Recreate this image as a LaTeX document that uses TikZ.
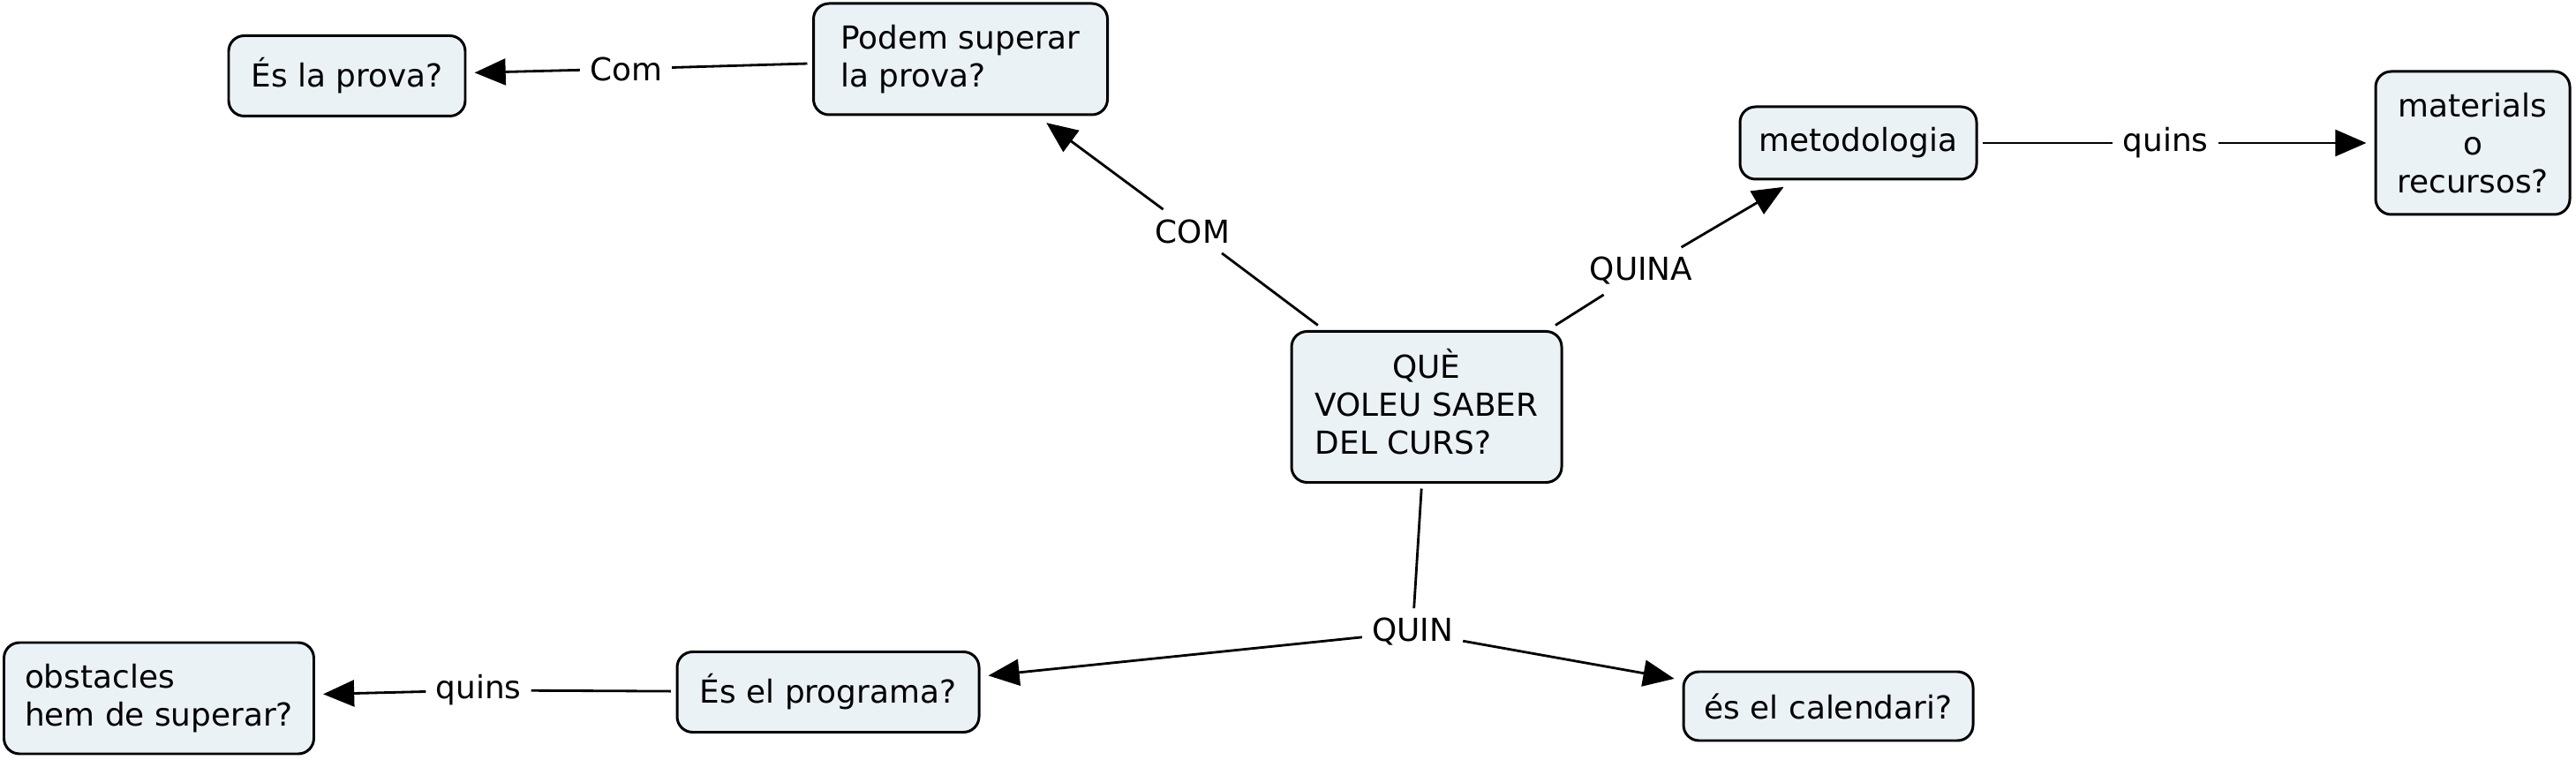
\documentclass[tikz,border=0pt]{standalone}
\usepackage{fontspec}
\setmainfont{DejaVu Sans}
\usepackage{tikz}
\usetikzlibrary{arrows.meta, positioning}

\definecolor{conceptfill}{RGB}{235,242,245}

\begin{document}
\begin{tikzpicture}[
        concept/.style={draw, fill=conceptfill, rounded corners=5pt, line width=0.85pt, inner xsep=6pt, outer sep=2pt, font=\fontsize{10.2}{12.2}\selectfont},
        linkword/.style={inner sep=3pt, font=\fontsize{10.2}{12.2}\selectfont},
        tolink/.style={line width=0.8pt},
        toconcept/.style={line width=0.8pt, -{Triangle[length=10pt,width=8.5pt]}, shorten >=1pt}
    ]
        \useasboundingbox (0,0) rectangle (29.18,-8.61);

        \node[concept, minimum width=3.06cm, minimum height=1.71cm](que) at (16.16,-4.61)
            {\begin{tabular}{@{}l@{}}\multicolumn{1}{@{}c@{}}{QUÈ}\\VOLEU SABER\\DEL CURS?\end{tabular}};
        \node[concept, align=left, minimum width=3.33cm, minimum height=1.26cm](podem) at (10.88,-0.67) {Podem superar\\la prova?};
        \node[concept, minimum width=2.68cm, minimum height=0.91cm](prova) at (3.93,-0.86) {És la prova?};
        \node[concept, minimum width=2.68cm, minimum height=0.82cm](metode) at (21.05,-1.62) {metodologia};
        \node[concept, align=center, minimum width=2.20cm, minimum height=1.62cm](materials) at (28.01,-1.62) {materials\\o\\recursos?};
        \node[concept, minimum width=3.42cm, minimum height=0.91cm](programa) at (9.38,-7.84) {És el programa?};
        \node[concept, align=left, minimum width=3.51cm, minimum height=1.26cm](obstacles) at (1.80,-7.91) {obstacles\\hem de superar?};
        \node[concept, minimum width=3.28cm, minimum height=0.78cm](calendari) at (20.71,-8.00) {és el calendari?};

        \node[linkword](com) at (13.51,-2.62) {COM};
        \node[linkword](com2) at (7.09,-0.78) {Com};
        \node[linkword](quina) at (18.59,-3.07) {QUINA};
        \node[linkword](quins) at (24.53,-1.62) {quins};
        \node[linkword](quin) at (16.00,-7.16) {QUIN};
        \node[linkword](quins2) at (5.42,-7.82) {quins};

        \path[tolink]
        (que) edge (com)
        (podem) edge (com2)
        (que) edge (quina)
        (metode) edge (quins)
        (que) edge (quin)
        (programa) edge (quins2);

        \path[toconcept]
        (com) edge (podem)
        (com2) edge (prova)
        (quina) edge (metode)
        (quins) edge (materials)
        (quin) edge (programa)
        (quin) edge (calendari)
        (quins2) edge (obstacles);
    \end{tikzpicture}
\end{document}
